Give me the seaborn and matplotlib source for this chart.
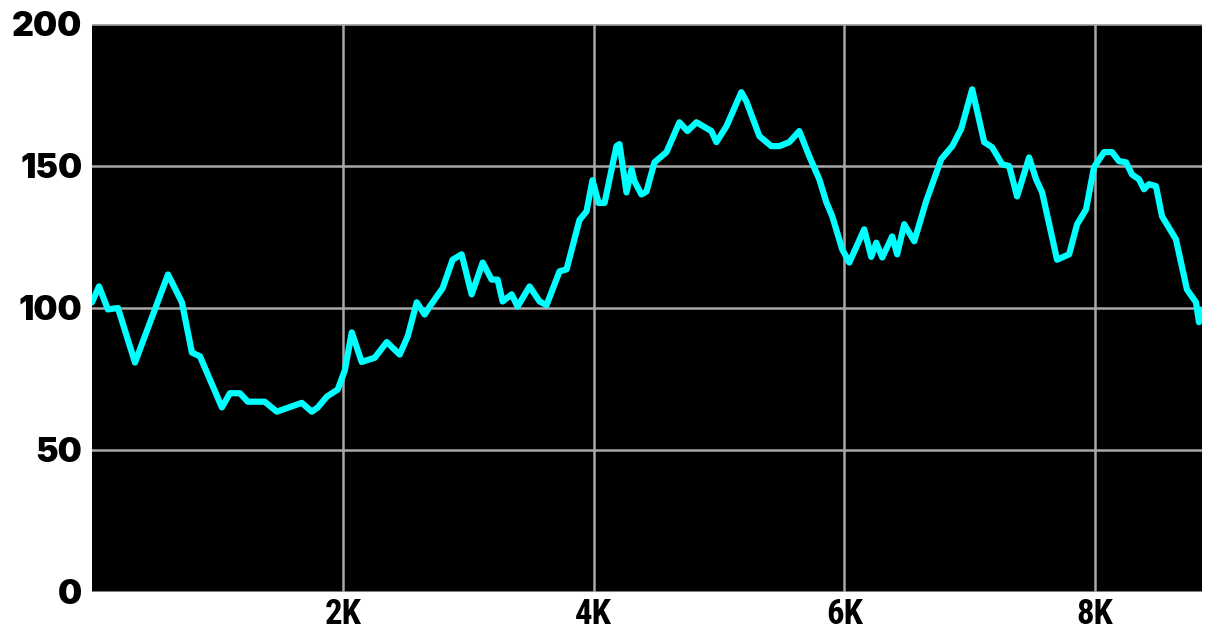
import pandas as pd
import matplotlib.pyplot as plt
import seaborn as sns
from matplotlib import font_manager

# values
x_vals = [0, 56, 127, 207, 343, 606, 717, 797, 861, 1036, 1100, 1179, 1243, 1378,
          1474, 1673, 1753, 1801, 1873, 1960, 2016, 2072, 2151, 2255, 2351, 2454,
          2518, 2590, 2653, 2693, 2797, 2876, 2948, 3028, 3116, 3187, 3235, 3275,
          3347, 3394, 3490, 3570, 3625, 3729, 3785, 3888, 3944, 3992, 4040, 4088,
          4183, 4207, 4263, 4303, 4327, 4382, 4422, 4486, 4582, 4685, 4749, 4821,
          4940, 4980, 5060, 5179, 5219, 5323, 5418, 5482, 5562, 5641, 5721, 5801,
          5857, 5904, 5984, 6040, 6159, 6215, 6255, 6303, 6382, 6422, 6478, 6558,
          6653, 6773, 6861, 6932, 7020, 7116, 7179, 7259, 7315, 7378, 7474, 7530,
          7578, 7697, 7793, 7857, 7928, 7992, 8072, 8135, 8191, 8247, 8295, 8351,
          8390, 8430, 8486, 8534, 8645, 8733, 8805, 8829, 8853]
y_vals = [102, 107.6, 99.5, 100, 80.8, 111.8, 102, 84.3, 83, 65, 70, 70, 67, 67,
          63.5, 66.6, 63.5, 65, 68.8, 71.3, 78, 91.4, 81, 82.5, 88, 83.6,
          90, 102, 97.7, 100.5, 107, 117, 118.9, 104.8, 116, 110, 110, 102.3,
          104.8, 100.5, 107.6, 102.3, 101, 112.9, 113.6, 131, 134, 145, 137, 137,
          157, 157.7, 140.7, 148.9, 144.6, 140, 141, 151.3, 154.9, 165.4, 162.3, 165.4,
          162.3, 158.4, 164, 176, 172.8, 160.5, 157, 157, 158.4, 162.3, 153.4, 145.3,
          137.2, 132.3, 120.6, 116, 127.7, 118, 123, 117.8, 125.2, 118.9, 129.5, 123.5,
          137.6, 152.4, 157, 163, 177, 158.4, 156.6, 150.6, 150, 139.3, 153, 145.3,
          140.7, 117, 118.9, 129.5, 134.7, 149.6, 154.9, 154.9, 151.7, 151.3, 147, 145.3,
          141.8, 143.6, 142.9, 132.3, 124.2, 106.5, 102, 95, 99.5]
x_ticks = [2000, 4000, 6000, 8000]
x_tick_labels = ["2K", "4K", "6K", "8K"]
y_ticks = [0, 50, 100, 150, 200]

df = pd.DataFrame({"x": x_vals, "y": y_vals})


def pick_font(names, fallback="DejaVu Sans"):
    have = {f.name for f in font_manager.fontManager.ttflist}
    for n in names:
        if n in have:
            return n
    return fallback


# a condensed bold face for the x labels, a very heavy one for y
x_font = pick_font(["Roboto Condensed", "Liberation Sans Narrow", "Open Sans Condensed"])
heavy = [f for f in font_manager.fontManager.ttflist
         if f.name in ("Lato", "Inter", "Roboto", "Open Sans") and f.weight in (800, 900, "black", "heavy", "extra bold")]
y_font = heavy[0].name if heavy else "DejaVu Sans"

sns.set_theme(style="white")

fig = plt.figure(figsize=(12.22, 6.32), dpi=100)
ax = fig.add_axes([92 / 1222, 40 / 632, 1110 / 1222, 568 / 632])
ax.set_facecolor("black")

sns.lineplot(data=df, x="x", y="y", ax=ax, color="#00FFFF", linewidth=4.5)

ax.set_xlim(0, x_vals[-1])
ax.set_ylim(0, 200)
ax.set_xticks(x_ticks)
ax.set_xticklabels(x_tick_labels)
ax.set_yticks(y_ticks)
ax.grid(True, color="#A8A8A8", linewidth=1.8)
ax.set_axisbelow(True)
for s in ax.spines.values():
    s.set_visible(False)

ax.set_xlabel("")
ax.set_ylabel("")
ax.tick_params(axis="both", length=0)
ax.tick_params(axis="x", pad=4)
ax.tick_params(axis="y", pad=7)
for lab in ax.get_yticklabels():
    lab.set_fontsize(24.5)
    lab.set_fontweight(900)
    lab.set_family([y_font, "DejaVu Sans"])
    lab.set_color("black")
for lab in ax.get_xticklabels():
    lab.set_fontsize(25)
    lab.set_fontweight("bold")
    lab.set_family([x_font, "DejaVu Sans"])
    lab.set_fontstretch("condensed")
    lab.set_color("black")

fig.savefig("out.png", dpi=100, facecolor="white")
